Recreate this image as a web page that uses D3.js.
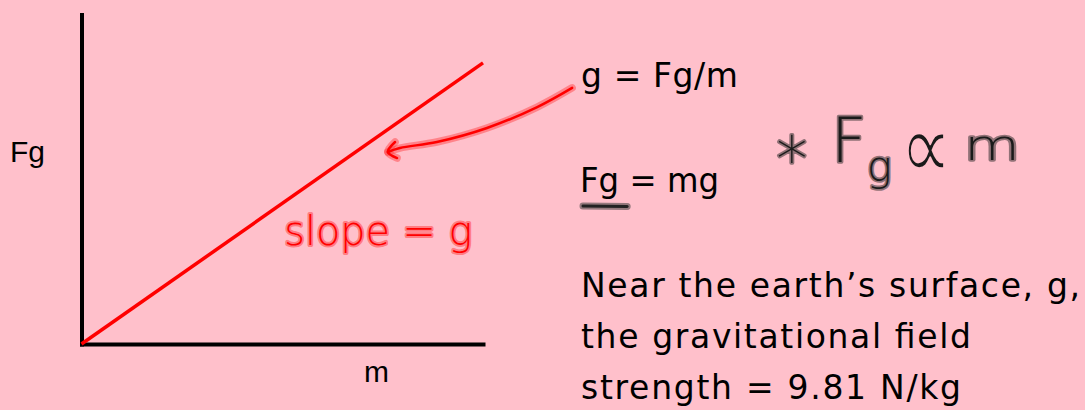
<!DOCTYPE html>
<html>
<head>
<meta charset="utf-8">
<script src="https://cdn.jsdelivr.net/npm/d3@7"></script>
<style>
  body { margin: 0; background: #ffc0cb; }
  svg { display: block; }
</style>
</head>
<body>
<div id="chart"></div>
<script>
// the Fg vs m line (m in kg, Fg in N), slope = g
var fgLine = [
  {m: 0, fg: 0},
  {m: 1, fg: 9.81}
];

// hand drawn arrow pointing at the line, in chart units
var arrowCurve = [
  {m: 1.222, fg: 8.94},
  {m: 1.135, fg: 8.27},
  {m: 1.010, fg: 7.54},
  {m: 0.885, fg: 7.05},
  {m: 0.793, fg: 6.84},
  {m: 0.763, fg: 6.70}
];
var arrowHead = [
  {m: 0.781, fg: 7.05},
  {m: 0.763, fg: 6.70},
  {m: 0.786, fg: 6.49}
];

// texts
var axisLabels = {x: "m", y: "Fg"};
var slopeNote = "slope = g";
var formulaLines = ["g = Fg/m", "Fg = mg"];
var noteLines = ["Near the earth\u2019s surface, g,", "the gravitational field", "strength = 9.81 N/kg"];

var width = 1085, height = 410;
var comic = "'Comic Sans MS', 'DejaVu Sans', sans-serif";
var thin = "'DejaVu Sans ExtraLight', 'DejaVu Sans', sans-serif";

var svg = d3.select("#chart").append("svg")
    .attr("width", width)
    .attr("height", height);

svg.append("rect")
    .attr("width", width)
    .attr("height", height)
    .attr("fill", "#ffc0cb");

// set the ranges
var x = d3.scaleLinear().domain([0, 1]).range([81.5, 483]);
var y = d3.scaleLinear().domain([0, 11.5]).range([344, 14.5]);

// axes without ticks, only the domain line
svg.append("g")
    .attr("transform", "translate(0," + y(0) + ")")
    .call(d3.axisBottom(x).tickValues([]).tickSizeOuter(0))
    .select(".domain")
    .attr("stroke", "#000")
    .attr("stroke-width", 4)
    .attr("stroke-linecap", "square");

svg.append("g")
    .attr("transform", "translate(" + x(0) + ",0)")
    .call(d3.axisLeft(y).tickValues([]).tickSizeOuter(0))
    .select(".domain")
    .attr("stroke", "#000")
    .attr("stroke-width", 4)
    .attr("stroke-linecap", "square");

// axis labels
svg.append("text")
    .attr("x", 10)
    .attr("y", 162)
    .style("font-family", "'Liberation Sans', Arial, sans-serif")
    .style("font-size", "30px")
    .attr("fill", "#000")
    .text(axisLabels.y);

svg.append("text")
    .attr("x", 364)
    .attr("y", 382)
    .style("font-family", "'Liberation Sans', Arial, sans-serif")
    .style("font-size", "30px")
    .attr("fill", "#000")
    .text(axisLabels.x);

// the line
var valueline = d3.line()
    .x(function(d) { return x(d.m); })
    .y(function(d) { return y(d.fg); });

svg.append("path")
    .datum(fgLine)
    .attr("fill", "none")
    .attr("stroke", "#ff0000")
    .attr("stroke-width", 3.5)
    .attr("d", valueline);

// red ink: arrow (halo first, then core)
var inkCurve = d3.line()
    .curve(d3.curveCatmullRom)
    .x(function(d) { return x(d.m); })
    .y(function(d) { return y(d.fg); });

[{w: 7.5, c: "rgba(255,40,40,0.4)"}, {w: 2.5, c: "#ff0000"}].forEach(function(s) {
  [arrowCurve, arrowHead].forEach(function(pts) {
    svg.append("path")
        .datum(pts)
        .attr("fill", "none")
        .attr("stroke", s.c)
        .attr("stroke-width", s.w)
        .attr("stroke-linecap", "round")
        .attr("stroke-linejoin", "round")
        .attr("d", inkCurve);
  });
});

// slope = g, red handwriting
svg.append("text")
    .attr("x", x(0.505))
    .attr("y", y(3.46))
    .attr("textLength", 188)
    .attr("lengthAdjust", "spacingAndGlyphs")
    .style("font-family", thin)
    .style("font-weight", 200)
    .style("font-size", "41px")
    .attr("fill", "#ff0000")
    .attr("stroke", "rgba(255,40,40,0.45)")
    .attr("stroke-width", 4)
    .attr("stroke-linejoin", "round")
    .style("paint-order", "stroke")
    .text(slopeNote);

// formulas on the right
var f1 = svg.append("text")
    .attr("x", 581)
    .attr("y", 87)
    .attr("textLength", 157)
    .attr("lengthAdjust", "spacing")
    .style("font-family", comic)
    .style("font-size", "33px")
    .attr("fill", "#000")
    .text(formulaLines[0]);

var f2 = svg.append("text")
    .attr("x", 580)
    .attr("y", 192)
    .attr("textLength", 139)
    .attr("lengthAdjust", "spacingAndGlyphs")
    .style("font-family", comic)
    .style("font-size", "34px")
    .attr("fill", "#000")
    .text(formulaLines[1]);

// hand drawn underline under the "Fg"
var fgEnd = f2.node().getStartPositionOfChar(1).x + f2.node().getExtentOfChar(1).width;
[{w: 7, c: "rgba(60,60,60,0.55)"}, {w: 3, c: "#222"}].forEach(function(s) {
  svg.append("line")
      .attr("x1", 583)
      .attr("x2", fgEnd + 8)
      .attr("y1", 206)
      .attr("y2", 206.5)
      .attr("stroke", s.c)
      .attr("stroke-width", s.w)
      .attr("stroke-linecap", "round");
});

// * Fg ∝ m, black handwriting
var hand = svg.append("g")
    .style("font-family", thin)
    .style("font-weight", 200)
    .attr("fill", "#1a1a1a")
    .attr("stroke", "rgba(70,60,62,0.6)")
    .attr("stroke-width", 3.5)
    .attr("stroke-linejoin", "round")
    .style("paint-order", "stroke");

hand.append("text").attr("x", 792).attr("y", 168).attr("text-anchor", "middle")
    .style("font-size", "62px").text("\u2217");
var fg = hand.append("text").attr("x", 831).attr("y", 162)
    .style("font-size", "62px");
fg.append("tspan").text("F");
fg.append("tspan").attr("dx", 0).attr("dy", 19)
    .style("font-size", "42px").text("g");
// the thin font has no ∝, so take the regular one and thin it with a pink edge
hand.append("text")
    .attr("transform", "translate(926,149) scale(1,1.3)")
    .attr("y", 23)
    .attr("text-anchor", "middle")
    .style("font-family", "'DejaVu Sans', sans-serif")
    .style("font-weight", 400)
    .attr("fill", "#1a1a1a")
    .attr("stroke", "#ffc0cb")
    .attr("stroke-width", 1.6)
    .style("paint-order", "normal")
    .style("font-size", "72px").text("\u221d");
hand.append("text").attr("x", 964).attr("y", 160)
    .attr("textLength", 56).attr("lengthAdjust", "spacingAndGlyphs")
    .style("font-size", "42px").text("m");

// the paragraph
var noteLengths = [499, 390, 380];
svg.selectAll("text.note")
    .data(noteLines)
  .enter().append("text")
    .attr("class", "note")
    .attr("x", 581)
    .attr("y", function(d, i) { return 297 + i * 51; })
    .attr("textLength", function(d, i) { return noteLengths[i]; })
    .attr("lengthAdjust", "spacing")
    .style("font-family", comic)
    .style("font-size", "33px")
    .attr("fill", "#000")
    .text(function(d) { return d; });
</script>
</body>
</html>
